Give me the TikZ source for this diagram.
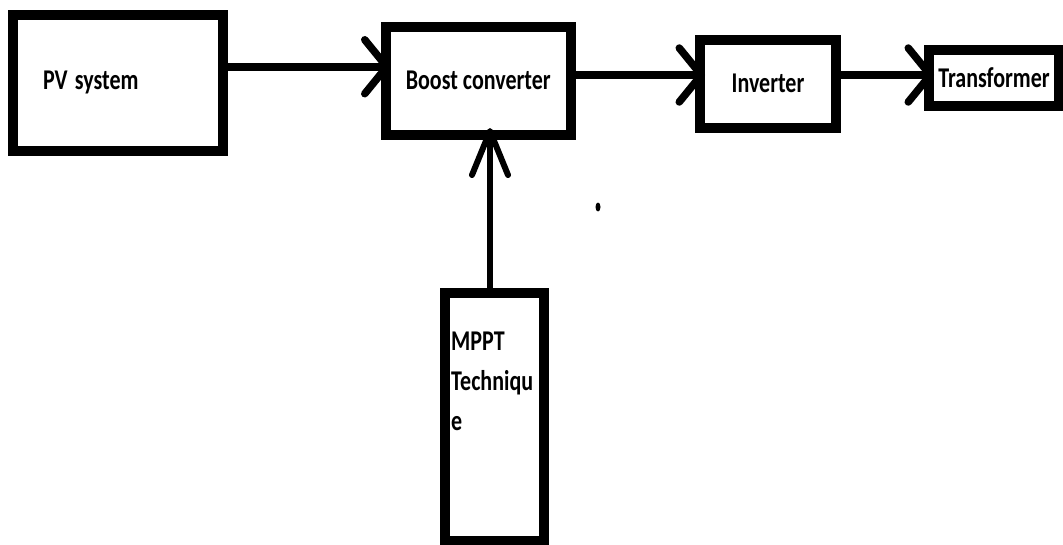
\documentclass[tikz,border=0pt]{standalone}
\usepackage{fontspec}
\usepackage{graphicx}
\setmainfont{Carlito}
\usetikzlibrary{arrows.meta}
\newcommand\stx[1]{\scalebox{1}[1.3]{#1}}
\tikzset{
  blockbox/.style={draw=black, line width=10pt, outer sep=0pt, inner sep=0pt,
    font=\bfseries\fontsize{22}{40}\selectfont},
  arrh/.style={line width=7.5pt, shorten >=-5pt,
    -{Straight Barb[length=22pt,width=54pt,round]}},
  arrv/.style={line width=6pt, shorten >=-7pt,
    -{Straight Barb[length=44pt,width=36pt,round]}},
  lbl/.style={inner sep=0pt, font=\bfseries\fontsize{22}{40}\selectfont}
}
\begin{document}
\begin{tikzpicture}[x=1pt,y=-1pt]
\useasboundingbox (0,0) rectangle (1063,544);
% boxes
\node[blockbox, minimum width=210pt, minimum height=135.5pt,
      text width=149pt, inner xsep=30.5pt, align=left] (pv) at (117.5,82.75) {\stx{PV system}};
\node[blockbox, minimum width=185.5pt, minimum height=108.5pt] (boost) at (478.25,80.75) {\stx{Boost converter}};
\node[blockbox, minimum width=136pt, minimum height=88.5pt] (inv) at (768,83.75) {\stx{Inverter}};
\node[blockbox, minimum width=130pt, minimum height=56.5pt] (tr) at (994,77.75) {\stx{Transformer}};
\node[blockbox, minimum width=99.5pt, minimum height=248pt,
      label={[lbl, anchor=north west, align=left, xshift=6.5pt, yshift=-39pt]north west:\stx{MPPT}\\\stx{Techniqu}\\\stx{e}}] (mppt) at (494.25,417) {};
% connector start points
\coordinate (c1) at ([yshift=16pt]pv.east);
\coordinate (c2) at ([yshift=5.75pt]boost.east);
\coordinate (c3) at ([yshift=8.75pt]inv.east);
\coordinate (c4) at ([xshift=-4.25pt]mppt.north);
% connectors
\draw[arrh] (c1) -- (c1 -| boost.west);
\draw[arrh] (c2) -- (c2 -| inv.west);
\draw[arrh] (c3) -- (c3 -| tr.west);
\draw[arrv] (c4) -- (c4 |- boost.south);
% stray dot
\fill (598,207) ellipse [x radius=2.5pt, y radius=4.5pt];
\end{tikzpicture}
\end{document}
